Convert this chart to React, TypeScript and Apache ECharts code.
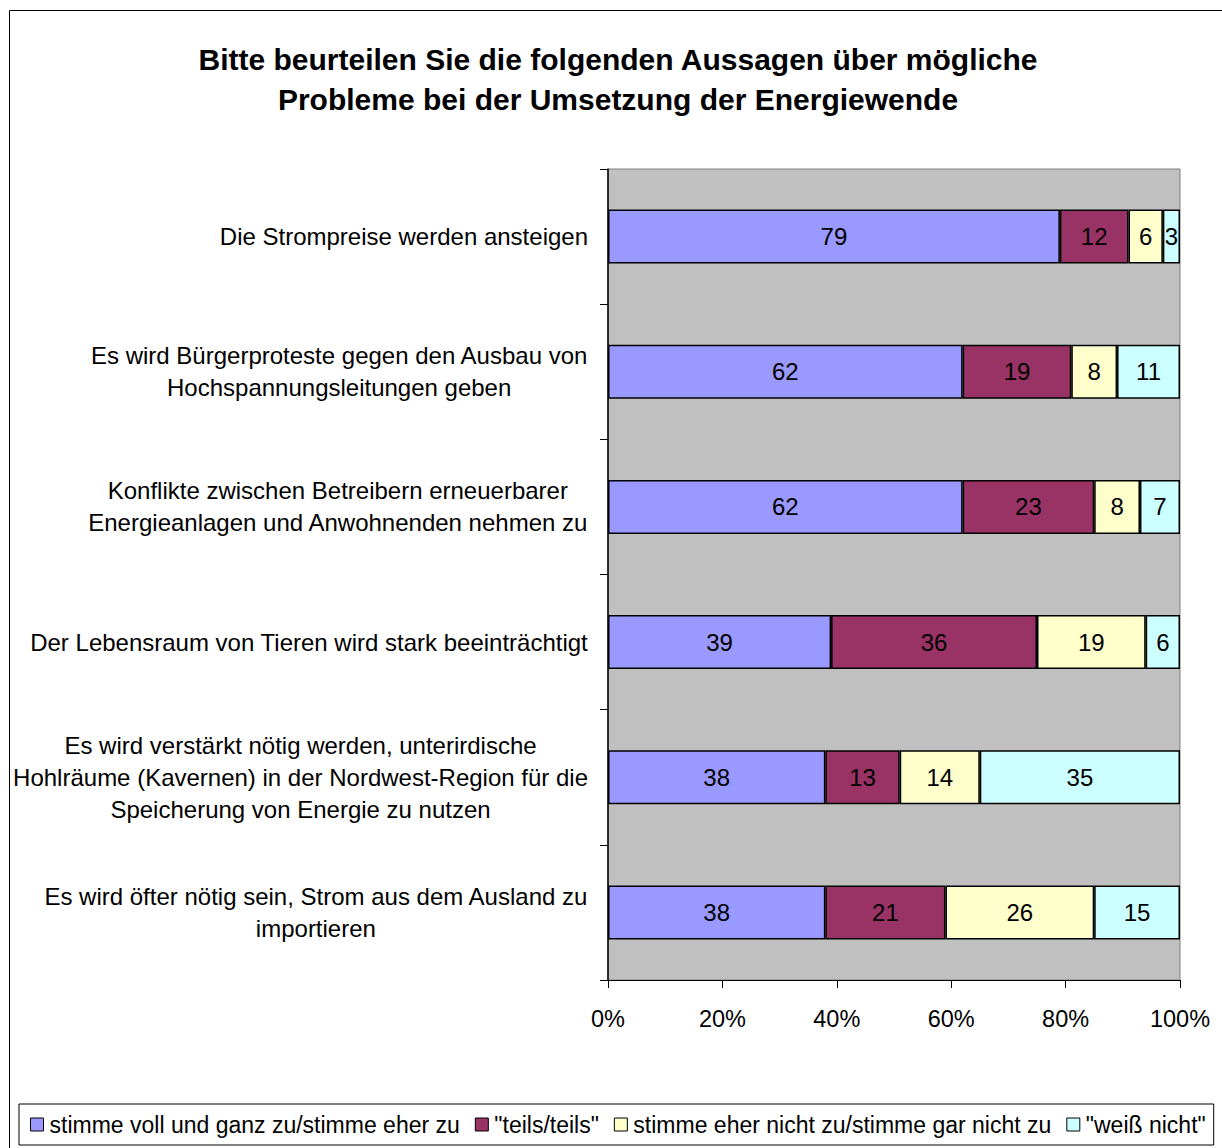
import React, { useEffect, useRef } from "react";
import * as echarts from "echarts";

const categories = [
  "Die Strompreise werden ansteigen",
  "Es wird Bürgerproteste gegen den Ausbau von\nHochspannungsleitungen geben",
  "Konflikte zwischen Betreibern erneuerbarer\nEnergieanlagen und Anwohnenden nehmen zu",
  "Der Lebensraum von Tieren wird stark beeinträchtigt",
  "Es wird verstärkt nötig werden, unterirdische\nHohlräume (Kavernen) in der Nordwest-Region für die\nSpeicherung von Energie zu nutzen",
  "Es wird öfter nötig sein, Strom aus dem Ausland zu\nimportieren",
];
const seriesNames = [
  "stimme voll und ganz zu/stimme eher zu",
  "\"teils/teils\"",
  "stimme eher nicht zu/stimme gar nicht zu",
  "\"weiß nicht\"",
];
const zustimmung = [79, 62, 62, 39, 38, 38];
const teils = [12, 19, 23, 36, 13, 21];
const ablehnung = [6, 8, 8, 19, 14, 26];
const weissNicht = [3, 11, 7, 6, 35, 15];
const xTicks = [0, 20, 40, 60, 80, 100];
const colors = ["#9999FF", "#993366", "#FFFFCC", "#CCFFFF"];
const titleText =
  "Bitte beurteilen Sie die folgenden Aussagen über mögliche\nProbleme bei der Umsetzung der Energiewende";

export default function App() {
  const ref = useRef<HTMLDivElement>(null);
  useEffect(() => {
    const chart = echarts.init(ref.current!, null, { renderer: "svg" });
    const font = "Liberation Sans, Arial, sans-serif";
    const values = [zustimmung, teils, ablehnung, weissNicht];
    chart.setOption({
      animation: false,
      textStyle: { fontFamily: font },
      graphic: [
        {
          type: "rect",
          shape: { x: 9.5, y: 10.5, width: 1240, height: 1160 },
          style: { fill: "none", stroke: "#000", lineWidth: 1 },
          silent: true,
          z: -1,
        },
      ],
      title: {
        text: titleText,
        left: 613,
        top: 34,
        textAlign: "center",
        textStyle: {
          fontFamily: font,
          fontSize: 30,
          fontWeight: "bold",
          lineHeight: 40,
          color: "#000",
        },
      },
      legend: {
        left: 19,
        top: 1104,
        orient: "horizontal",
        icon: "rect",
        itemWidth: 13,
        itemHeight: 13,
        itemGap: 15,
        padding: [9, 8, 9, 11],
        borderColor: "#000",
        borderWidth: 1,
        backgroundColor: "#fff",
        textStyle: { fontFamily: font, fontSize: 23, color: "#000", padding: [0, 0, 0, 1] },
        data: seriesNames.map((n) => ({ name: n, itemStyle: { borderColor: "#000", borderWidth: 1 } })),
      },
      grid: {
        left: 608,
        right: 42,
        top: 169,
        bottom: 168,
        show: true,
        backgroundColor: "#C0C0C0",
        borderColor: "#808080",
        borderWidth: 1,
      },
      xAxis: {
        type: "value",
        min: 0,
        max: 100,
        interval: 20,
        data: xTicks,
        axisLine: { show: true, lineStyle: { color: "#000", width: 1 } },
        axisTick: { show: true, length: 8, lineStyle: { color: "#000" } },
        splitLine: { show: false },
        axisLabel: {
          formatter: "{value}%",
          fontSize: 23.5,
          color: "#000",
          margin: 27,
          fontFamily: font,
        },
      },
      yAxis: {
        type: "category",
        inverse: true,
        data: categories,
        axisLine: { show: true, lineStyle: { color: "#000", width: 1.5 } },
        axisTick: { show: true, length: 8, alignWithLabel: false, lineStyle: { color: "#000" } },
        axisLabel: {
          margin: 20,
          align: "right",
          color: "#000",
          fontSize: 24,
          lineHeight: 32,
          fontFamily: font,
          formatter: (v: string) =>
            v
              .split("\n")
              .map((l) => "{c|" + l + "}")
              .join("\n"),
          rich: {
            c: { align: "center", fontSize: 24, lineHeight: 32, fontFamily: font, color: "#000" },
          },
        },
      },
      series: seriesNames.map((name, i) => ({
        name,
        type: "bar",
        stack: "total",
        barCategoryGap: "60%",
        data: values[i],
        itemStyle: { color: colors[i], borderColor: "#000", borderWidth: 1.5 },
        label: {
          show: true,
          position: "inside",
          color: "#000",
          fontSize: 24,
          fontFamily: font,
        },
      })),
    });
    return () => chart.dispose();
  }, []);
  return (
    <div
      ref={ref}
      style={{ position: "absolute", left: 0, top: 0, width: 1222, height: 1148, background: "#fff" }}
    />
  );
}
